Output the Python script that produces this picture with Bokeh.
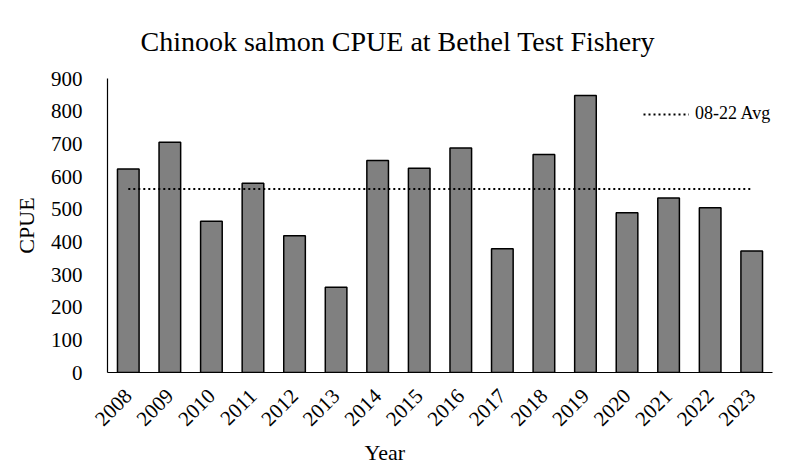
import math
from bokeh.plotting import figure
from bokeh.models import Range1d, FactorRange, Title, Legend, LegendItem, FixedTicker
from bokeh.embed import file_html
from bokeh.resources import INLINE

# ---- data ----
years = ["2008", "2009", "2010", "2011", "2012", "2013", "2014", "2015",
         "2016", "2017", "2018", "2019", "2020", "2021", "2022", "2023"]
cpue = [623, 705, 463, 579, 419, 261, 649, 625,
        687, 379, 667, 848, 489, 534, 504, 372]
avg_label = "08-22 Avg"
avg_value = 562
y_ticks = [0, 100, 200, 300, 400, 500, 600, 700, 800, 900]

FONT = "Liberation Serif"

p = figure(width=779, height=468,
           x_range=FactorRange(factors=years),
           y_range=Range1d(0, 900),
           output_backend="svg", toolbar_location=None,
           min_border_left=107, min_border_right=7,
           min_border_top=78, min_border_bottom=96)

p.vbar(x=years, top=cpue, width=0.52, fill_color="#808080",
       line_color="black", line_width=1.5)
avg_line = p.line(x=years, y=[avg_value] * len(years), line_color="black",
                  line_width=2, line_dash="2 3")

# title
p.title.text = "Chinook salmon CPUE at Bethel Test Fishery"
p.title.align = "left"
p.title.offset = 33
p.title.standoff = 44
p.title.text_font = FONT
p.title.text_font_size = "28px"
p.title.text_font_style = "normal"
p.title.text_color = "black"

# axes
for ax in (p.xaxis[0], p.yaxis[0]):
    ax.axis_line_color = "black"
    ax.axis_line_width = 1.2
    ax.major_tick_line_color = None
    ax.minor_tick_line_color = None
    ax.major_tick_out = 0
    ax.major_tick_in = 0
    ax.minor_tick_out = 0
    ax.minor_tick_in = 0
    ax.major_label_text_font = FONT
    ax.major_label_text_font_size = "21px"
    ax.major_label_text_color = "black"

p.yaxis.ticker = FixedTicker(ticks=y_ticks)
p.yaxis.major_label_standoff = 25
p.yaxis.axis_label = "CPUE"
p.yaxis.axis_label_text_font = FONT
p.yaxis.axis_label_text_font_size = "22px"
p.yaxis.axis_label_text_font_style = "normal"
p.yaxis.axis_label_text_color = "black"
p.yaxis.axis_label_standoff = 9

p.xaxis.major_label_orientation = math.pi / 4
p.xaxis.major_label_standoff = 20

p.add_layout(Title(text="Year", align="left", offset=257, standoff=5,
                   text_font=FONT, text_font_size="22px",
                   text_font_style="normal", text_color="black"), "below")

p.xgrid.visible = False
p.ygrid.visible = False
p.outline_line_color = None

legend = Legend(items=[LegendItem(label=avg_label, renderers=[avg_line])],
                location=(536, 248), glyph_width=46, label_standoff=6,
                padding=0, margin=0, spacing=0,
                border_line_color=None, background_fill_alpha=0,
                label_text_font=FONT, label_text_font_size="18px",
                label_text_color="black")
p.add_layout(legend)

open("out.html", "w").write(file_html(p, INLINE))
